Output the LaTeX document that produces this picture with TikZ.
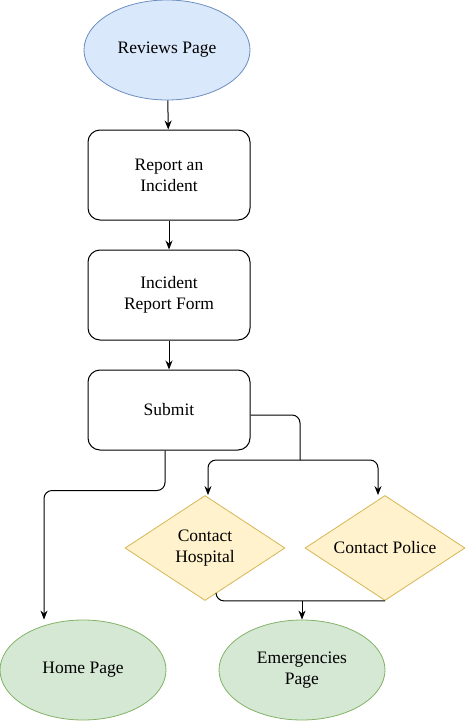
\documentclass[tikz,border=0pt]{standalone}
\usepackage{fontspec}
\setmainfont{Liberation Serif}
\usetikzlibrary{shapes.geometric,arrows.meta}
\definecolor{bluefill}{HTML}{DAE8FC}
\definecolor{bluedraw}{HTML}{6C8EBF}
\definecolor{yellowfill}{HTML}{FFF2CC}
\definecolor{yellowdraw}{HTML}{D6B656}
\definecolor{greenfill}{HTML}{D5E8D4}
\definecolor{greendraw}{HTML}{82B366}
\begin{document}
\begin{tikzpicture}[x=1pt,y=1pt]
\tikzstyle{every node}+=[inner sep=0pt, align=center, font=\fontsize{17.5}{21}\selectfont]
\tikzstyle{page}=[ellipse, line width=0.8pt, minimum width=166pt, minimum height=100pt]
\tikzstyle{stepbox}=[rectangle, draw=black, line width=1pt, rounded corners=12pt, minimum width=162pt, minimum height=90pt]
\tikzstyle{decision}=[diamond, draw=yellowdraw, fill=yellowfill, line width=0.8pt, minimum width=160pt, minimum height=105pt]
\tikzstyle{link}=[draw=black, line width=1pt, rounded corners=8pt]
\tikzstyle{arrow}=[link, -{Stealth[length=9pt,width=7pt]}]
\useasboundingbox (0,0) rectangle (466,-721);
% pages and steps
\node [page, draw=bluedraw, fill=bluefill] (reviews) at (167,-50) {Reviews Page};
\node [stepbox] (report) at (169,-175) {Report an\\Incident};
\node [stepbox] (form) at (169,-295) {Incident\\Report Form};
\node [stepbox, minimum height=80pt] (submit) at (169,-410) {Submit};
\node [decision] (hospital) at (205,-548) {};
\node (hospitaltext) at (hospital) {Contact\\Hospital};
\node [decision] (police) at (385,-548) {};
\node (policetext) at (police) {Contact Police};
\node [page, draw=greendraw, fill=greenfill] (home) at (83,-670) {Home Page};
\node [page, draw=greendraw, fill=greenfill] (emergencies) at (302,-670) {Emergencies\\Page};
% connectors
\draw [arrow] (reviews) -- (report);
\draw [arrow] (report) -- (form);
\draw [arrow] (form) -- (submit);
\coordinate (split) at (300,-460);
\draw [link] ([yshift=-5pt]submit.east) -| (split);
\draw [arrow] (split) -| ([xshift=3pt]hospital.north);
\draw [arrow] (split) -| ([xshift=-7pt]police.north);
\draw [arrow] ([xshift=-4pt]submit.south) -- ++(0,-40) -| ([xshift=-39pt]home.north);
\draw [link] (hospital.south) ++(11,7) |- (police.south);
\draw [arrow] (emergencies.north |- police.south) -- (emergencies.north);
\end{tikzpicture}
\end{document}
